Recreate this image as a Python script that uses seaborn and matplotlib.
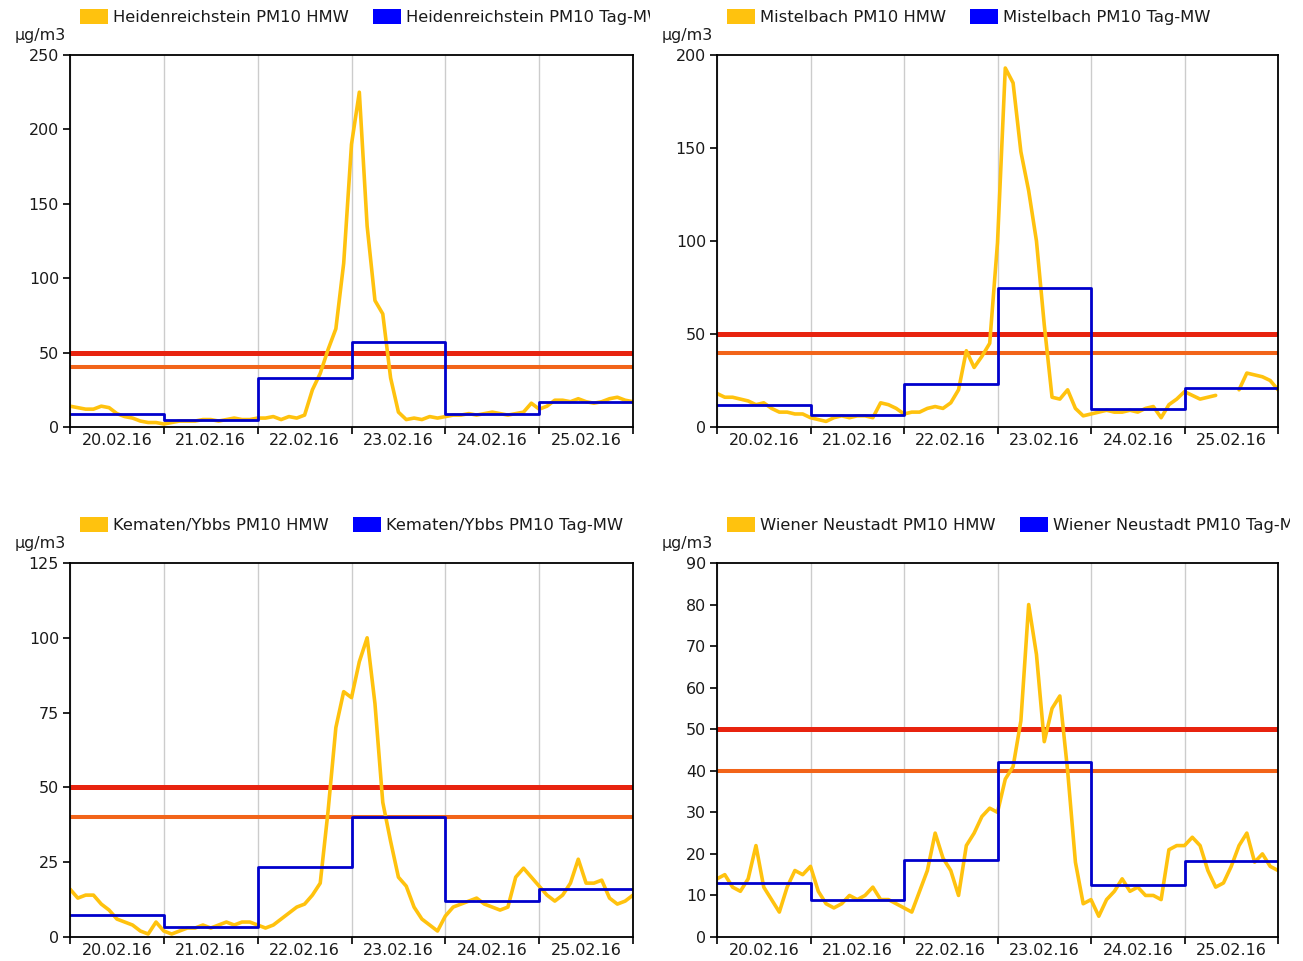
"""
PM10 comparison for four Lower Austrian stations, 20.02.16 - 25.02.16.
Half-hour values (HMW, read every 2 h) and daily means (Tag-MW).
"""

import numpy as np
import pandas as pd
import matplotlib
matplotlib.use('Agg')
import matplotlib.pyplot as plt
import matplotlib.transforms as mtransforms
import seaborn as sns
from matplotlib.patches import Patch

# --- data -----------------------------------------------------------------
DAY_LABELS = ['20.02.16', '21.02.16', '22.02.16', '23.02.16', '24.02.16', '25.02.16']
SAMPLE_HOURS = list(range(0, 145, 2))   # reading grid: every 2 hours, 6 days
LIMITS = [50, 40]                       # red / orange reference lines

STATIONS = ['Heidenreichstein', 'Mistelbach', 'Kematen/Ybbs', 'Wiener Neustadt']

HEIDENREICHSTEIN_HMW = [
    14, 13, 12, 12, 14, 13, 9, 7, 6, 4, 3, 3,
    2, 3, 4, 4, 4, 5, 5, 4, 5, 6, 5, 5,
    6, 6, 7, 5, 7, 6, 8, 25, 36, 52, 66, 110,
    190, 225, 135, 85, 76, 33, 10, 5, 6, 5, 7, 6,
    7, 8, 8, 9, 8, 9, 10, 9, 8, 9, 10, 16,
    12, 14, 18, 18, 17, 19, 17, 16, 17, 19, 20, 18,
    17,
]
MISTELBACH_HMW = [
    18, 16, 16, 15, 14, 12, 13, 10, 8, 8, 7, 7,
    5, 4, 3, 5, 6, 5, 6, 6, 5, 13, 12, 10,
    7, 8, 8, 10, 11, 10, 13, 20, 41, 32, 38, 45,
    99, 193, 185, 148, 127, 100, 55, 16, 15, 20, 10, 6,
    7, 8, 9, 8, 8, 9, 8, 10, 11, 5, 12, 15,
    19, 17, 15, 16, 17, np.nan, np.nan, 20, 29, 28, 27, 25,
    20,
]
KEMATEN_HMW = [
    16, 13, 14, 14, 11, 9, 6, 5, 4, 2, 1, 5,
    2, 1, 2, 3, 3, 4, 3, 4, 5, 4, 5, 5,
    4, 3, 4, 6, 8, 10, 11, 14, 18, 42, 70, 82,
    80, 92, 100, 78, 45, 32, 20, 17, 10, 6, 4, 2,
    7, 10, 11, 12, 13, 11, 10, 9, 10, 20, 23, 20,
    17, 14, 12, 14, 18, 26, 18, 18, 19, 13, 11, 12,
    14,
]
WIENER_NEUSTADT_HMW = [
    14, 15, 12, 11, 14, 22, 12, 9, 6, 12, 16, 15,
    17, 11, 8, 7, 8, 10, 9, 10, 12, 9, 9, 8,
    7, 6, 11, 16, 25, 19, 16, 10, 22, 25, 29, 31,
    30, 38, 41, 52, 80, 68, 47, 55, 58, 40, 18, 8,
    9, 5, 9, 11, 14, 11, 12, 10, 10, 9, 21, 22,
    22, 24, 22, 16, 12, 13, 17, 22, 25, 18, 20, 17,
    16,
]

HEIDENREICHSTEIN_TMW = [9, 5, 33, 57, 9, 17]
MISTELBACH_TMW = [12, 6.5, 23, 75, 9.5, 21]
KEMATEN_TMW = [7.5, 3.5, 23.5, 40, 12, 16]
WIENER_NEUSTADT_TMW = [13, 9, 18.5, 42, 12.5, 18.3]

Y_TICKS = [
    [0, 50, 100, 150, 200, 250],
    [0, 50, 100, 150, 200],
    [0, 25, 50, 75, 100, 125],
    [0, 10, 20, 30, 40, 50, 60, 70, 80, 90],
]

HMW_SERIES = [HEIDENREICHSTEIN_HMW, MISTELBACH_HMW, KEMATEN_HMW, WIENER_NEUSTADT_HMW]
TMW_SERIES = [HEIDENREICHSTEIN_TMW, MISTELBACH_TMW, KEMATEN_TMW, WIENER_NEUSTADT_TMW]

# --- style ----------------------------------------------------------------
YELLOW = '#FFC20E'
BLUE_LINE = '#0000CC'
BLUE_PATCH = '#0000FF'
RED = '#E8230F'
ORANGE = '#F26419'
GRID = '#CCCCCC'
TEXT = '#1a1a1a'
FONT_SIZE = 11.4
LEGEND_SIZE = 11.8

sns.set_theme(style='white')
plt.rcParams['font.family'] = ['DejaVu Sans']

W, H = 1303, 961
# axes boxes in pixels: left, top, right, bottom
AXES_PX = [
    (70, 55, 633, 427),
    (717, 55, 1278, 427),
    (70, 563, 633, 937),
    (717, 563, 1278, 937),
]
# every station chart was its own image; legend text is cut at its right edge
CLIP_RIGHT = [650, 1290, 650, 1290]


def draw_panel(fig, idx):
    left, top, right, bottom = AXES_PX[idx]
    ax = fig.add_axes([left / W, 1 - bottom / H, (right - left) / W, (bottom - top) / H])

    # half-hour values, split where readings are missing
    hmw = np.array(HMW_SERIES[idx], dtype=float)
    df = pd.DataFrame({
        'day': np.array(SAMPLE_HOURS) / 24,
        'value': hmw,
        'seg': np.isnan(hmw).cumsum(),
    }).dropna()

    tmw = TMW_SERIES[idx]
    daily = pd.DataFrame({'day': range(len(tmw) + 1), 'value': tmw + [tmw[-1]]})

    ax.axhline(LIMITS[0], color=RED, lw=3.6, zorder=2)
    ax.axhline(LIMITS[1], color=ORANGE, lw=2.9, zorder=2)

    sns.lineplot(data=df, x='day', y='value', units='seg', estimator=None,
                 color=YELLOW, lw=2.6, ax=ax, legend=False, zorder=3)
    sns.lineplot(data=daily, x='day', y='value', estimator=None,
                 drawstyle='steps-post', color=BLUE_LINE, lw=2.0,
                 ax=ax, legend=False, zorder=4)

    yt = Y_TICKS[idx]
    ax.set_xlim(0, len(DAY_LABELS))
    ax.set_ylim(yt[0], yt[-1])
    ax.set_yticks(yt)
    ax.set_yticklabels([str(v) for v in yt])

    # day boundaries carry ticks + grid, labels sit in the middle of each day
    ax.set_xticks(range(len(DAY_LABELS) + 1))
    ax.set_xticklabels([''] * (len(DAY_LABELS) + 1))
    ax.set_xticks([i + 0.5 for i in range(len(DAY_LABELS))], minor=True)
    ax.set_xticklabels(DAY_LABELS, minor=True)
    ax.tick_params(axis='x', which='minor', length=0, pad=4, labelsize=FONT_SIZE,
                   labelcolor=TEXT)
    ax.tick_params(axis='x', which='major', length=5, width=1.2, color='black',
                   direction='out', bottom=True)
    ax.tick_params(axis='y', length=5, width=1.2, color='black', direction='out',
                   left=True, pad=3, labelsize=FONT_SIZE, labelcolor=TEXT)
    ax.xaxis.grid(True, which='major', color=GRID, lw=1.0)
    ax.yaxis.grid(False)
    ax.set_axisbelow(True)
    ax.set_xlabel('')
    ax.set_ylabel('')

    for spine in ax.spines.values():
        spine.set_color('black')
        spine.set_linewidth(1.3)
        spine.set_zorder(5)

    ax.annotate('µg/m3', xy=(0, 1), xycoords='axes fraction', xytext=(-4, 15),
                textcoords='offset pixels', ha='right', va='baseline',
                fontsize=FONT_SIZE, color=TEXT)

    # legend above the plot
    name = STATIONS[idx]
    handles = [Patch(facecolor=YELLOW, edgecolor='none'),
               Patch(facecolor=BLUE_PATCH, edgecolor='none')]
    labels = [f'{name} PM10 HMW', f'{name} PM10 Tag-MW']
    anchor = mtransforms.offset_copy(ax.transAxes, fig=fig, x=10, y=30, units='dots')
    leg = ax.legend(handles, labels, ncol=2, loc='lower left',
                    bbox_to_anchor=(0, 1), bbox_transform=anchor,
                    frameon=False, fontsize=LEGEND_SIZE, handlelength=1.7,
                    handleheight=1.0, handletextpad=0.3, columnspacing=1.5,
                    borderpad=0, borderaxespad=0)

    clip = mtransforms.TransformedBbox(
        mtransforms.Bbox([[0, 0], [CLIP_RIGHT[idx] / W, 1]]), fig.transFigure)
    for t in leg.get_texts():
        t.set_color(TEXT)
        t.set_clip_box(clip)
        t.set_clip_on(True)
    return ax


fig = plt.figure(figsize=(W / 100, H / 100), dpi=100)
for i in range(len(STATIONS)):
    draw_panel(fig, i)

fig.savefig('out.png', dpi=100)
plt.close(fig)
